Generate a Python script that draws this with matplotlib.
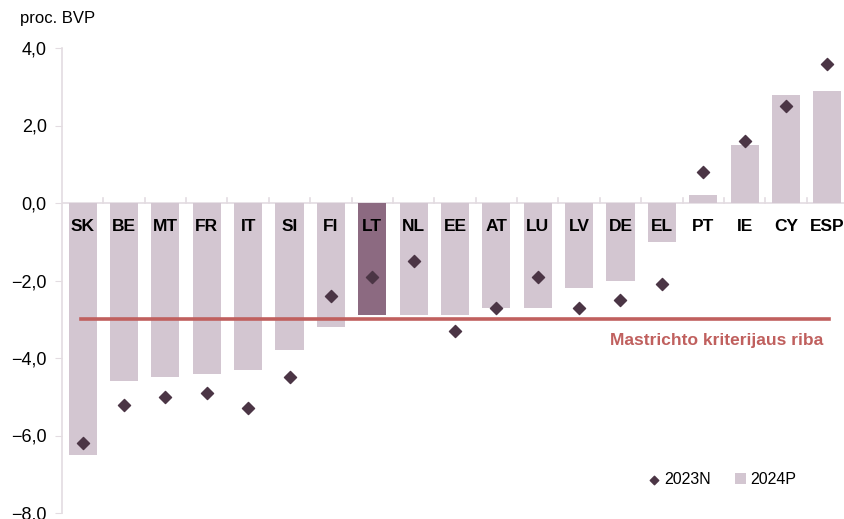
import matplotlib.pyplot as plt
from matplotlib.ticker import FuncFormatter

plt.rcParams['font.family'] = ['Liberation Sans', 'DejaVu Sans']

countries = ["SK", "BE", "MT", "FR", "IT", "SI", "FI", "LT", "NL", "EE",
             "AT", "LU", "LV", "DE", "EL", "PT", "IE", "CY", "ESP"]
val_2024 = [-6.5, -4.6, -4.5, -4.4, -4.3, -3.8, -3.2, -2.9, -2.9, -2.9,
            -2.7, -2.7, -2.2, -2.0, -1.0, 0.2, 1.5, 2.8, 2.9]
val_2023 = [-6.2, -5.2, -5.0, -4.9, -5.3, -4.5, -2.4, -1.9, -1.5, -3.3,
            -2.7, -1.9, -2.7, -2.5, -2.1, 0.8, 1.6, 2.5, 3.6]
maastricht = -3.0
highlight = "LT"

bar_col = "#d3c6d1"
lt_col = "#8c6a81"
dot_col = "#4b3545"
line_col = "#c0605e"
axis_col = "#e3dce1"

fig = plt.figure(figsize=(8.45, 5.19), dpi=100)
ax = fig.add_axes([62 / 845, 6 / 519, 786 / 845, 465 / 519])

x = list(range(len(countries)))
colors = [lt_col if c == highlight else bar_col for c in countries]
ax.bar(x, val_2024, width=0.68, color=colors, label="2024P", zorder=2)
ax.scatter(x, val_2023, marker="D", s=38, color=dot_col, label="2023N", zorder=4)
ax.plot([-0.05, len(countries) - 0.95], [maastricht, maastricht],
        color=line_col, lw=2.6, zorder=3)
ax.text(len(countries) - 1.1, maastricht - 0.55, "Mastrichto kriterijaus riba",
        color=line_col, fontsize=12.5, fontweight="bold", ha="right", va="center")

for xi, c in zip(x, countries):
    ax.text(xi, -0.6, c, ha="center", va="center", fontsize=12.5,
            fontweight="bold", color="black", zorder=5)

ax.set_xlim(-0.5, len(countries) - 0.5)
ax.set_ylim(-8, 4)
ax.set_yticks([-8, -6, -4, -2, 0, 2, 4])
ax.yaxis.set_major_formatter(FuncFormatter(
    lambda v, p: ("%.1f" % v).replace(".", ",").replace("-", "\u2212")))
ax.tick_params(axis="y", labelsize=13, length=5, color=axis_col, pad=6)

ax.set_xticks([])
ax.axhline(0, color=axis_col, lw=1.2, zorder=1)
for b in range(len(countries)):
    ax.plot([b + 0.5, b + 0.5], [0, 0.12], color=axis_col, lw=1.2, zorder=1)

for s in ["top", "right", "bottom"]:
    ax.spines[s].set_visible(False)
ax.spines["left"].set_color(axis_col)
ax.spines["left"].set_linewidth(1.2)

fig.text(20 / 845, 1 - 18 / 519, "proc. BVP", fontsize=12, va="center", ha="left")

leg = ax.legend(loc="center", ncol=2,
                bbox_to_anchor=(0.84, 0.071), frameon=False, fontsize=11.5,
                handlelength=0.7, handletextpad=0.3, columnspacing=1.5,
                markerscale=0.7)

fig.savefig("out.png", dpi=100)
